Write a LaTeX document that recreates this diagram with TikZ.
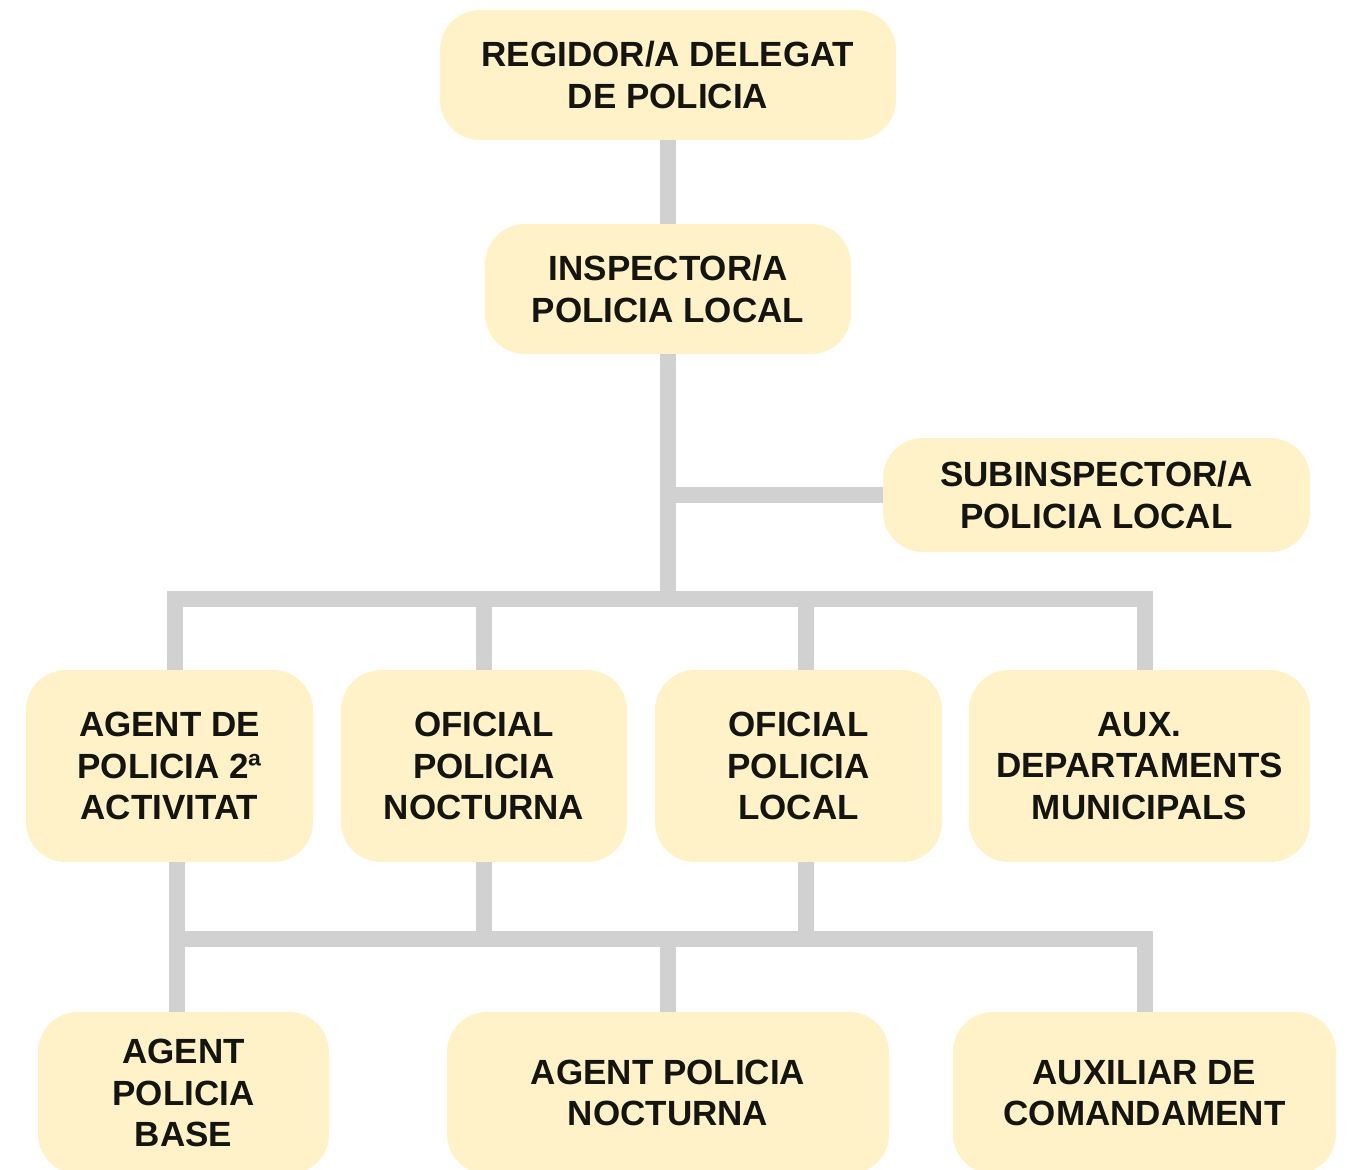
\documentclass[tikz,border=0pt]{standalone}
\usepackage{fontspec}
\setmainfont{Liberation Sans}
\definecolor{boxfill}{HTML}{FFF2C9}
\definecolor{linkgray}{HTML}{D0D1D0}
\definecolor{textdark}{HTML}{141410}
\tikzset{
  orgbox/.style={fill=boxfill, rounded corners=40pt, align=center, inner sep=0pt,
    text=textdark, font=\fontsize{35}{41.5}\selectfont\bfseries},
  link/.style={draw=linkgray, line width=16pt}
}
\begin{document}
\begin{tikzpicture}[x=1pt,y=-1pt]

      \path[use as bounding box, fill=white] (0,0) rectangle (1348,1169);

      \begin{scope}[every node/.style={orgbox}]
        \node[minimum width=456, minimum height=130] (regidor) at (668,75)  {REGIDOR/A DELEGAT\\DE POLICIA};
        \node[minimum width=366, minimum height=130] (insp)    at (668,289) {INSPECTOR/A\\POLICIA LOCAL};
        \node[minimum width=427, minimum height=114] (subinsp) at (1096.5,495) {SUBINSPECTOR/A\\POLICIA LOCAL};
        \node[minimum width=287, minimum height=192] (agent2)  at (169.5,766) {AGENT DE\\POLICIA 2ª\\ACTIVITAT};
        \node[minimum width=286, minimum height=192] (ofinoct) at (484,766)   {OFICIAL\\POLICIA\\NOCTURNA};
        \node[minimum width=287, minimum height=192] (ofiloc)  at (798.5,766) {OFICIAL\\POLICIA\\LOCAL};
        \node[minimum width=341, minimum height=192] (auxdep)  at (1139.5,766) {AUX.\\DEPARTAMENTS\\MUNICIPALS};
        \node[minimum width=291, minimum height=162] (agbase)  at (183.5,1093) {AGENT\\POLICIA\\BASE};
        \node[minimum width=442, minimum height=162] (agnoct)  at (668,1093)   {AGENT POLICIA\\NOCTURNA};
        \node[minimum width=383, minimum height=162] (auxcom)  at (1144.5,1093) {AUXILIAR DE\\COMANDAMENT};
      \end{scope}

      % bus joints
      \coordinate (upl) at (175,599);
      \coordinate (upr) at (1145,599);
      \coordinate (upm) at (806,599);
      \coordinate (lol) at (177,939);
      \coordinate (lor) at (1145,939);
      \coordinate (lom) at (806,939);

      \begin{scope}[every path/.style={link}]
        \path (regidor) edge (insp);
        \draw (insp.south) -- (insp.south |- upl);
        \draw (subinsp.west) -- (subinsp.west -| insp.south);
        \draw (upl |- agent2.north) -- (upl) -- (upr) -- (upr |- auxdep.north);
        \draw (ofinoct.north) -- (ofinoct.north |- upl);
        \draw (upm |- ofiloc.north) -- (upm);
        \draw (lol |- agent2.south) -- (lol |- agbase.north);
        \draw (lol) -- (lor) -- (lor |- auxcom.north);
        \draw (ofinoct.south) -- (ofinoct.south |- lol);
        \draw (lom |- ofiloc.south) -- (lom);
        \draw (agnoct.north) -- (agnoct.north |- lol);
      \end{scope}

    \end{tikzpicture}
\end{document}
